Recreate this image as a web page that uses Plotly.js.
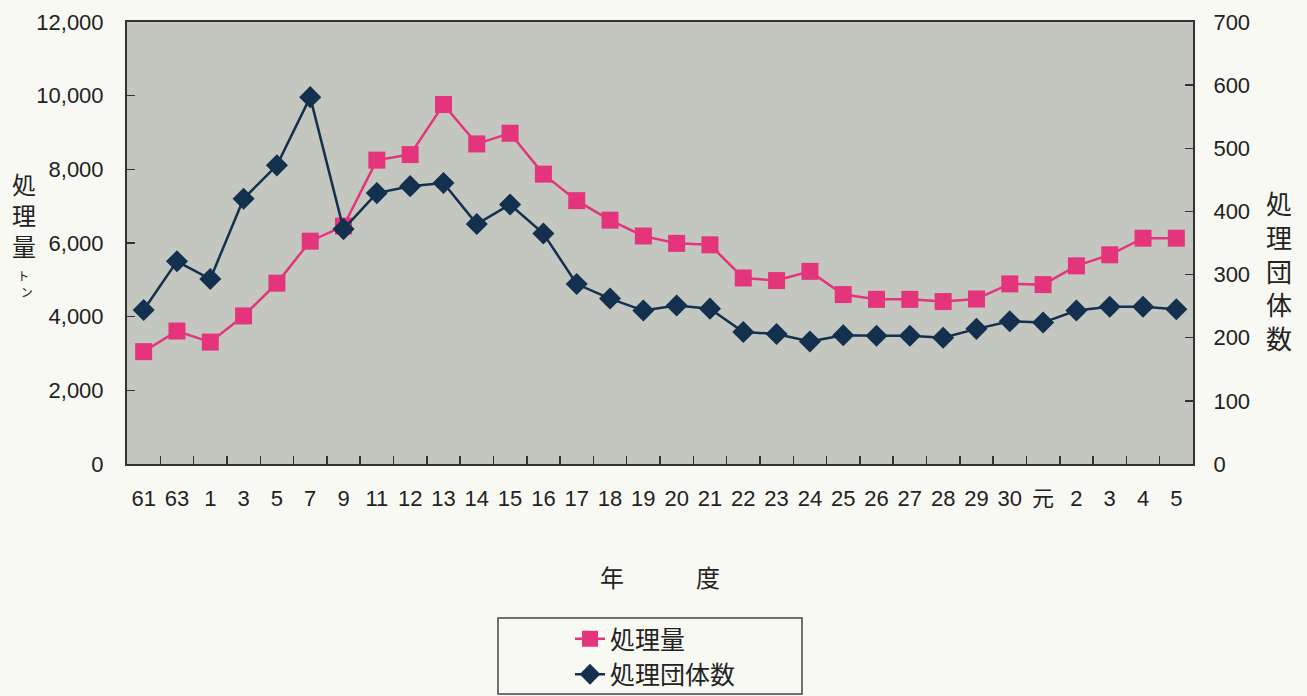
<!DOCTYPE html>
<html>
<head>
<meta charset="utf-8">
<script src="https://cdn.plot.ly/plotly-3.0.1.min.js"></script>
<style>html,body{margin:0;padding:0;background:#f9f9f4;}#chart{width:1307px;height:696px;}</style>
</head>
<body>
<div id="chart"></div>
<script>
// Fiscal-year keys (unique) and their displayed tick labels
const yearKeys = ['S61','S63','H1','H3','H5','H7','H9','H11','H12','H13','H14','H15','H16','H17','H18','H19','H20','H21','H22','H23','H24','H25','H26','H27','H28','H29','H30','R1','R2','R3','R4','R5'];
const tickLabels = ['61','63','1','3','5','7','9','11','12','13','14','15','16','17','18','19','20','21','22','23','24','25','26','27','28','29','30','元','2','3','4','5'];
// 処理量 (トン), left axis
const amount = [3050,3610,3310,4020,4910,6050,6460,8250,8400,9760,8690,8980,7870,7150,6620,6190,5990,5950,5050,4980,5230,4600,4470,4470,4410,4480,4890,4870,5380,5680,6130,6130];
// 処理団体数, right axis
const groups = [244,321,293,420,473,581,372,429,440,445,380,411,365,285,262,243,251,246,209,206,194,204,203,203,200,214,226,224,243,249,249,245];

const pink = '#e4357c';
const navy = '#14304f';
const fontFam = '"Liberation Sans", Arial, "Noto Sans CJK JP", sans-serif';

const traces = [
  {x: yearKeys, y: amount, name: '処理量', type: 'scatter', mode: 'lines+markers',
   line: {color: pink, width: 2.5}, marker: {symbol: 'square', size: 17, color: pink}, yaxis: 'y'},
  {x: yearKeys, y: groups, name: '処理団体数', type: 'scatter', mode: 'lines+markers',
   line: {color: navy, width: 2.5}, marker: {symbol: 'diamond', size: 17, color: navy}, yaxis: 'y2'}
];

const px = v => (v - 127) / 1066;
const py = v => (464 - v) / 442;

const layout = {
  width: 1307, height: 696,
  margin: {l: 127, r: 114, t: 22, b: 232, autoexpand: false},
  paper_bgcolor: '#f9f9f4',
  plot_bgcolor: '#c3c7bf',
  font: {family: fontFam, size: 22, color: '#222'},
  showlegend: true,
  xaxis: {
    type: 'category', categoryorder: 'array', categoryarray: yearKeys,
    range: [-0.5, yearKeys.length - 0.5], autorange: false,
    tickmode: 'array', tickvals: yearKeys, ticktext: tickLabels, tickangle: 0,
    tickson: 'boundaries', ticks: 'inside', ticklen: 8, tickcolor: '#333', tickwidth: 1.5,
    showline: true, linecolor: '#333', linewidth: 2, mirror: true,
    showgrid: false, zeroline: false, ticklabelstandoff: 14,
    tickfont: {size: 22, family: fontFam}
  },
  yaxis: {
    range: [0, 12000], dtick: 2000, tick0: 0, tickformat: ',d',
    ticks: 'inside', ticklen: 8, tickcolor: '#333', tickwidth: 1.5,
    showline: true, linecolor: '#333', linewidth: 2,
    showgrid: false, zeroline: false, ticklabelstandoff: 17,
    tickfont: {size: 22, family: fontFam}
  },
  yaxis2: {
    range: [0, 700], dtick: 100, tick0: 0, overlaying: 'y', side: 'right',
    ticks: 'inside', ticklen: 8, tickcolor: '#333', tickwidth: 1.5,
    showline: true, linecolor: '#333', linewidth: 2,
    showgrid: false, zeroline: false, ticklabelstandoff: 14,
    tickfont: {size: 22, family: fontFam}
  },
  legend: {
    x: px(570), y: py(616), xanchor: 'left', yanchor: 'top',
    bgcolor: 'rgba(0,0,0,0)', borderwidth: 0,
    font: {size: 25, family: fontFam, color: '#222'}
  },
  shapes: [
    {type: 'rect', xref: 'paper', yref: 'paper', x0: px(498), x1: px(802), y0: py(694), y1: py(618),
     line: {color: '#444', width: 1.5}, fillcolor: '#f9f9f4', layer: 'below'}
  ],
  annotations: [
    {text: '年　　　度', xref: 'paper', yref: 'paper', x: 0.5, y: py(578), xanchor: 'center', yanchor: 'middle', showarrow: false,
     font: {size: 24, family: fontFam, color: '#222'}},
    {text: '処<br>理<br>量', xref: 'paper', yref: 'paper', x: px(24), y: py(216), xanchor: 'center', yanchor: 'middle', showarrow: false,
     font: {size: 24, family: fontFam, color: '#222'}},
    {text: 'ト<br>&nbsp;&nbsp;ン', xref: 'paper', yref: 'paper', x: px(23), y: py(285), xanchor: 'center', yanchor: 'middle', showarrow: false,
     font: {size: 12, family: fontFam, color: '#222'}},
    {text: '処<br>理<br>団<br>体<br>数', xref: 'paper', yref: 'paper', x: px(1279), y: py(272), xanchor: 'center', yanchor: 'middle', showarrow: false,
     font: {size: 26, family: fontFam, color: '#222'}}
  ]
};

Plotly.newPlot('chart', traces, layout, {displayModeBar: false, staticPlot: true});
</script>
</body>
</html>
